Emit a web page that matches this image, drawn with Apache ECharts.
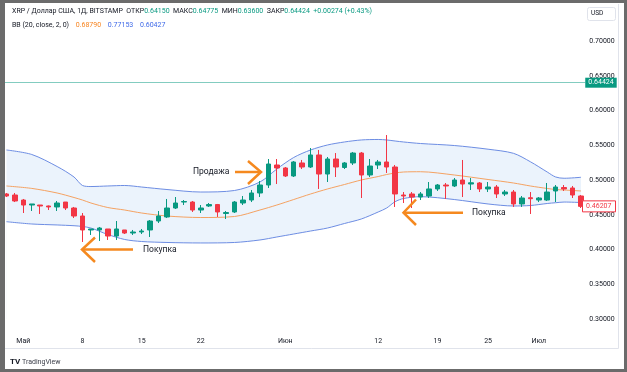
<!DOCTYPE html>
<html><head><meta charset="utf-8">
<script src="https://cdn.jsdelivr.net/npm/echarts@6/dist/echarts.min.js"></script>
<style>html,body{margin:0;padding:0;background:#fff}#c{width:627px;height:372px}</style>
</head><body><div id="c"></div>
<script>
const categories = ['04-29','04-30',
'05-01','05-02','05-03','05-04','05-05','05-06','05-07','05-08','05-09','05-10',
'05-11','05-12','05-13','05-14','05-15','05-16','05-17','05-18','05-19','05-20',
'05-21','05-22','05-23','05-24','05-25','05-26','05-27','05-28','05-29','05-30','05-31',
'06-01','06-02','06-03','06-04','06-05','06-06','06-07','06-08','06-09','06-10',
'06-11','06-12','06-13','06-14','06-15','06-16','06-17','06-18','06-19','06-20',
'06-21','06-22','06-23','06-24','06-25','06-26','06-27','06-28','06-29','06-30',
'07-01','07-02','07-03','07-04','07-05','07-06'];

const opens  = [0.4799,0.4784,0.4712,0.4640,0.4640,0.4626,0.4612,0.4683,0.4597,0.4482,0.4281,0.4281,0.4295,0.4194,0.4281,0.4237,0.4252,0.4281,0.4410,0.4468,0.4597,0.4683,0.4683,0.4568,0.4626,0.4647,0.4518,0.4540,0.4669,0.4712,0.4813,0.4928,0.5216,0.5173,0.5058,0.5245,0.5187,0.5360,0.5086,0.5302,0.5180,0.5245,0.5388,0.5072,0.5216,0.5259,0.5187,0.4784,0.4799,0.4755,0.4770,0.4871,0.4928,0.4914,0.5000,0.4942,0.4957,0.4871,0.4899,0.4799,0.4827,0.4655,0.4745,0.4712,0.4712,0.4842,0.4892,0.4885,0.4770];
const closes = [0.4770,0.4698,0.4640,0.4655,0.4626,0.4612,0.4669,0.4597,0.4482,0.4281,0.4295,0.4309,0.4194,0.4295,0.4237,0.4252,0.4266,0.4410,0.4482,0.4597,0.4669,0.4690,0.4568,0.4597,0.4647,0.4540,0.4532,0.4683,0.4712,0.4813,0.4928,0.5230,0.5173,0.5058,0.5259,0.5187,0.5360,0.5086,0.5302,0.5187,0.5245,0.5388,0.5072,0.5201,0.5259,0.5187,0.4799,0.4770,0.4755,0.4799,0.4871,0.4928,0.4914,0.5000,0.4942,0.4960,0.4871,0.4899,0.4799,0.4827,0.4655,0.4741,0.4731,0.4741,0.4827,0.4899,0.4871,0.4784,0.46207];
const lows   = [0.4755,0.4683,0.4525,0.4554,0.4511,0.4568,0.4554,0.4568,0.4453,0.4108,0.4209,0.4122,0.4137,0.4137,0.4223,0.4209,0.4223,0.4180,0.4381,0.4453,0.4583,0.4640,0.4540,0.4525,0.4612,0.4468,0.4439,0.4525,0.4640,0.4683,0.4755,0.4885,0.4942,0.5043,0.5043,0.5158,0.5173,0.4871,0.4971,0.5043,0.5158,0.5216,0.4741,0.5043,0.5158,0.5101,0.4612,0.4669,0.4597,0.4712,0.4741,0.4842,0.4727,0.4899,0.4755,0.4856,0.4827,0.4827,0.4741,0.4770,0.4612,0.4612,0.4511,0.4683,0.4698,0.4683,0.4842,0.4741,0.4597];
const highs  = [0.4813,0.4813,0.4727,0.4655,0.4640,0.4633,0.4698,0.4683,0.4612,0.4525,0.4295,0.4324,0.4295,0.4410,0.4281,0.4281,0.4295,0.4424,0.4554,0.4727,0.4755,0.4712,0.4698,0.4640,0.4669,0.4655,0.4554,0.4698,0.4770,0.4856,0.4986,0.5302,0.5302,0.5187,0.5273,0.5288,0.5460,0.5432,0.5331,0.5388,0.5259,0.5403,0.5403,0.5302,0.5288,0.5647,0.5216,0.4827,0.4827,0.4827,0.4971,0.4942,0.4957,0.5029,0.5288,0.5029,0.4971,0.4971,0.4928,0.4856,0.4856,0.4770,0.4827,0.4755,0.4957,0.4928,0.4928,0.4914,0.4784];

// Bollinger band readings (at selected candles)
const bbIdx   = [0,3,6,8,9,10,12,14,16,19,23,27,30,32,34,36,38,40,42,44,45,46,47,49,53,57,60,62,64,65,66,68];
const bbUpper = [0.5432,0.5367,0.5194,0.5043,0.4921,0.4906,0.4914,0.4921,0.4899,0.4863,0.4827,0.4849,0.4971,0.5158,0.5324,0.5432,0.5504,0.5547,0.5576,0.5583,0.5576,0.5561,0.5547,0.5525,0.5496,0.5443,0.5384,0.5263,0.5115,0.5043,0.5025,0.5039];
const bbBasis = [0.4914,0.4879,0.4813,0.4748,0.4712,0.4669,0.4604,0.4568,0.4525,0.4482,0.4460,0.4475,0.4568,0.4640,0.4719,0.4799,0.4871,0.4935,0.5000,0.5050,0.5079,0.5101,0.5115,0.5119,0.5072,0.5007,0.4957,0.4914,0.4878,0.4863,0.4856,0.4842];
const bbLower = [0.4400,0.4367,0.4353,0.4342,0.4331,0.4309,0.4216,0.4144,0.4115,0.4101,0.4094,0.4101,0.4137,0.4180,0.4223,0.4266,0.4309,0.4374,0.4439,0.4540,0.4597,0.4688,0.4734,0.4760,0.4719,0.4655,0.4626,0.4633,0.4662,0.4673,0.4683,0.4676];

const tickLabels = {'05-01':'Май','05-08':'8','05-15':'15','05-22':'22','06-01':'Июн','06-12':'12','06-19':'19','06-25':'25','07-01':'Июл'};
const lastPrice = 0.64424;
const lastClose = 0.46207;

const FONT = 'Roboto, "Noto Sans", sans-serif';
const TXT = '#131722';
const GREEN = '#089981', RED = '#f23645';

const candleData = opens.map((o,i)=>[o, closes[i], lows[i], highs[i]]);
const pts = arr => bbIdx.map((k,j)=>[categories[k], arr[j]]);

const chart = echarts.init(document.getElementById('c'), null, {renderer:'canvas'});
chart.setOption({
  backgroundColor:'#ffffff',
  animation:false,
  grid:{left:2.2, top:41, width:583.05, height:278},
  xAxis:{type:'category', data:categories, boundaryGap:true,
    axisLine:{show:false}, axisTick:{show:false}, splitLine:{show:false},
    axisLabel:{interval:(i,v)=>v in tickLabels, formatter:v=>tickLabels[v]||'',
      color:TXT, fontSize:7, fontFamily:FONT, margin:19}},
  yAxis:{type:'value', position:'right', min:0.30, max:0.70, interval:0.05, scale:true,
    axisLine:{show:false}, axisTick:{show:false}, splitLine:{show:false},
    axisLabel:{formatter:v=>v.toFixed(5), color:TXT, fontSize:7, fontFamily:FONT, margin:4}},
  series:[
    {type:'line', name:'upperFill', data:pts(bbUpper), smooth:0.3, symbol:'none',
      lineStyle:{color:'#6d8de3', width:1}, areaStyle:{color:'#ebf3fc', opacity:1, origin:'start'}, z:1},
    {type:'line', name:'lowerFill', data:pts(bbLower), smooth:0.3, symbol:'none',
      lineStyle:{color:'#6d8de3', width:1}, areaStyle:{color:'#ffffff', opacity:1, origin:'start'}, z:1},
    {type:'line', name:'basis', data:pts(bbBasis), smooth:0.3, symbol:'none',
      lineStyle:{color:'#f5a262', width:1}, z:2},
    {type:'candlestick', data:candleData, barWidth:5, z:5,
      itemStyle:{color:GREEN, color0:RED, borderColor:GREEN, borderColor0:RED, borderWidth:1},
      markLine:{silent:true, symbol:'none', animation:false,
        data:[{yAxis:lastPrice}],
        lineStyle:{color:'rgba(8,153,129,0.5)', type:'solid', width:1},
        label:{show:true, position:'end', distance:0, formatter:()=>lastPrice.toFixed(5),
          color:'#ffffff', backgroundColor:GREEN, padding:[2,3,1,3], fontSize:7, fontFamily:FONT}}}
  ]
});

const yRed = chart.convertToPixel({yAxisIndex:0}, lastClose);
const arrowColor = '#f5891f';
chart.setOption({graphic:[
  // chart panel faint border
  {type:'line', shape:{x1:618.5,y1:4,x2:618.5,y2:348.5}, style:{stroke:'#e0e3eb', lineWidth:1}, z:1},
  {type:'line', shape:{x1:4,y1:348.5,x2:618.5,y2:348.5}, style:{stroke:'#e0e3eb', lineWidth:1}, z:1},
  // outer frame
  {type:'rect', shape:{x:0,y:0,width:627,height:372}, style:{fill:null, stroke:'#6b6b6b', lineWidth:6}, z:100},
  {type:'rect', shape:{x:0,y:0,width:5,height:372}, style:{fill:'#6b6b6b'}, z:100},
  // header
  {type:'text', left:12, top:8, z:50, style:{
    text:'{d|XRP / Доллар США, 1Д, BITSTAMP  ОТКР}{g|0.64150}{d|  МАКС}{g|0.64775}{d|  МИН}{g|0.63600}{d|  ЗАКР}{g|0.64424}{g|  +0.00274 (+0.43%)}',
    rich:{d:{fill:TXT, fontSize:7, fontFamily:FONT}, g:{fill:GREEN, fontSize:7, fontFamily:FONT}}}},
  {type:'text', left:12, top:19, z:50, style:{
    text:'{d|BB (20, close, 2, 0)}  {o|0.68790}  {b|0.77153}  {b|0.60427}',
    rich:{d:{fill:TXT, fontSize:7, fontFamily:FONT}, o:{fill:'#f7841f', fontSize:7, fontFamily:FONT}, b:{fill:'#3f6ae8', fontSize:7, fontFamily:FONT}}}},
  // USD button
  {type:'rect', shape:{x:587.5,y:7.5,width:28,height:13,r:2}, style:{fill:'#fff', stroke:'#e0e3eb', lineWidth:1}, z:50},
  {type:'text', left:591, top:10, z:51, style:{text:'USD', fill:TXT, fontSize:6.5, fontFamily:FONT}},
  // red last-close label
  {type:'rect', shape:{x:582.5,y:yRed-5.5,width:33,height:11}, style:{fill:'#fff', stroke:RED, lineWidth:1}, z:60},
  {type:'text', x:586, y:yRed, z:61, style:{text:lastClose.toFixed(5), fill:RED, fontSize:7, fontFamily:FONT, textVerticalAlign:'middle'}},
  // annotations
  {type:'text', x:193, y:172, z:40, style:{text:'Продажа', fill:TXT, fontSize:8.5, fontFamily:FONT, textVerticalAlign:'middle'}},
  {type:'polyline', shape:{points:[[235,172],[260,172]]}, style:{stroke:arrowColor, lineWidth:2.5}, z:40},
  {type:'polyline', shape:{points:[[248,161],[261,172],[248,184]]}, style:{stroke:arrowColor, lineWidth:2.5, fill:null}, z:40},

  {type:'text', x:143, y:250, z:40, style:{text:'Покупка', fill:TXT, fontSize:8.5, fontFamily:FONT, textVerticalAlign:'middle'}},
  {type:'polyline', shape:{points:[[82,249.5],[133,249.5]]}, style:{stroke:arrowColor, lineWidth:2.5}, z:40},
  {type:'polyline', shape:{points:[[95,237.5],[82,249.5],[95,262]]}, style:{stroke:arrowColor, lineWidth:2.5, fill:null}, z:40},

  {type:'text', x:472, y:213, z:40, style:{text:'Покупка', fill:TXT, fontSize:8.5, fontFamily:FONT, textVerticalAlign:'middle'}},
  {type:'polyline', shape:{points:[[403,212.7],[463,212.7]]}, style:{stroke:arrowColor, lineWidth:2.5}, z:40},
  {type:'polyline', shape:{points:[[416,199.5],[403.5,212.7],[416,225]]}, style:{stroke:arrowColor, lineWidth:2.5, fill:null}, z:40},
  // TradingView logo
  {type:'text', x:10, y:362, z:40, style:{text:'TV', fill:TXT, fontSize:8, fontWeight:'bold', fontFamily:FONT, textVerticalAlign:'middle'}},
  {type:'text', x:22, y:362, z:40, style:{text:'TradingView', fill:'#3c3f4a', fontSize:7, fontFamily:FONT, textVerticalAlign:'middle'}}
]});
</script>
</body></html>
